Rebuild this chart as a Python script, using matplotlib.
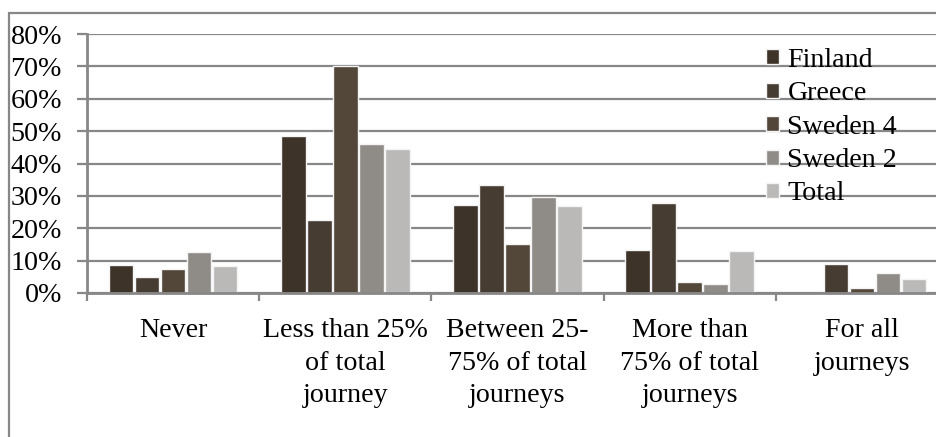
import numpy as np
import matplotlib
matplotlib.use("Agg")
import matplotlib.pyplot as plt
from matplotlib.patches import Rectangle
from matplotlib.ticker import FuncFormatter

plt.rcParams['font.family'] = ['Liberation Serif', 'DejaVu Serif']

# part des trajets, par pays
categories = ["Never", "Less than 25%\nof total\njourney", "Between 25-\n75% of total\njourneys",
              "More than\n75% of total\njourneys", "For all\njourneys"]
series = ["Finland", "Greece", "Sweden 4", "Sweden 2", "Total"]
finland = [0.087, 0.486, 0.272, 0.134, 0.0]
greece = [0.049, 0.226, 0.333, 0.279, 0.091]
sweden4 = [0.073, 0.700, 0.152, 0.034, 0.015]
sweden2 = [0.128, 0.460, 0.295, 0.028, 0.062]
total = [0.083, 0.446, 0.270, 0.131, 0.043]
couleurs = ["#3d3329", "#473c32", "#524739", "#8f8b87", "#bab9b7"]

valeurs = [finland, greece, sweden4, sweden2, total]

fig = plt.figure(figsize=(9.36, 4.37), dpi=100)
ax = fig.add_axes([87 / 936, 144 / 437, 861 / 936, 259 / 437])

x = np.arange(len(categories))
pas = 0.151
for i, (nom, vals) in enumerate(zip(series, valeurs)):
    ax.bar(x + (i - 2) * pas, vals, width=0.143, color=couleurs[i],
           edgecolor="#f4f4f4", linewidth=1.0, label=nom, zorder=2)

gris = "#878787"
ax.set_xlim(-0.5, len(categories) - 0.5)
ax.set_ylim(0, 0.8)
ax.set_yticks(np.arange(0, 0.81, 0.1))
ax.yaxis.set_major_formatter(FuncFormatter(lambda v, p: f"{v:.0%}"))
ax.yaxis.grid(True, color=gris, linewidth=1.6, zorder=0)
ax.set_axisbelow(True)

ax.set_xticks(x)
ax.set_xticklabels(categories, linespacing=1.4)
ax.set_xticks(np.arange(-0.5, len(categories)), minor=True)
ax.tick_params(axis="x", which="major", length=0, pad=18, labelsize=20.2)
ax.tick_params(axis="x", which="minor", length=6, width=1.6, color=gris)
ax.tick_params(axis="y", length=7, width=1.6, color=gris, pad=11, labelsize=20.2)

for s in ["top", "right"]:
    ax.spines[s].set_visible(False)
for s in ["left", "bottom"]:
    ax.spines[s].set_color(gris)
    ax.spines[s].set_linewidth(2)
    ax.spines[s].set_zorder(2.5)

leg = ax.legend(loc="upper left", bbox_to_anchor=(0.776, 0.99), frameon=False,
                fontsize=20.2, handlelength=0.45, handleheight=0.45,
                handletextpad=0.3, labelspacing=0.3, borderaxespad=0)

# cadre du graphique
fig.add_artist(Rectangle((9 / 936, -0.2), 1.2, 1.2 - 13 / 437, transform=fig.transFigure,
                         fill=False, edgecolor=gris, linewidth=1.6))

fig.savefig("out.png", dpi=100)
